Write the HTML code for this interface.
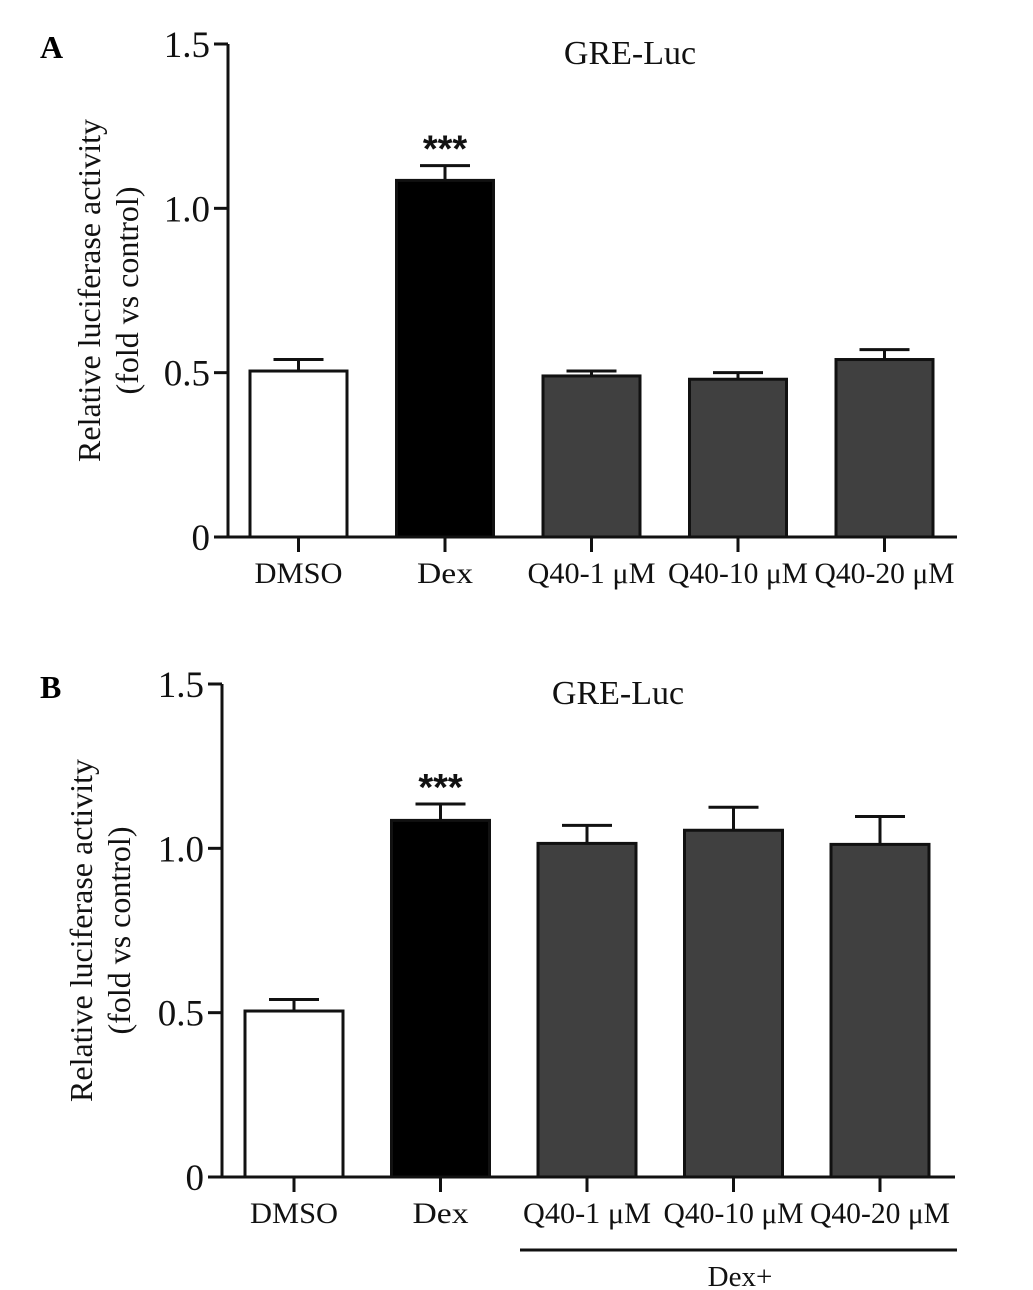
<!DOCTYPE html>
<html><head><meta charset="utf-8"><style>
html,body{margin:0;padding:0;background:#fff;}
svg{display:block;font-family:"Liberation Serif",serif;}
</style></head><body>
<svg id="chart" width="1033" height="1290" viewBox="0 0 1033 1290"></svg>
<script>
const categories = ["DMSO","Dex","Q40-1 μM","Q40-10 μM","Q40-20 μM"];
const valuesA = [0.505, 1.085, 0.49, 0.48, 0.54];
const errorsA = [0.035, 0.045, 0.015, 0.02, 0.03];
const valuesB = [0.505, 1.085, 1.015, 1.055, 1.012];
const errorsB = [0.035, 0.05, 0.055, 0.07, 0.085];
const yTicks = [0, 0.5, 1.0, 1.5];
const yTickLabels = ["0","0.5","1.0","1.5"];
const fills = ["#ffffff","#000000","#404040","#404040","#404040"];

const NS = "http://www.w3.org/2000/svg";
const svg = document.getElementById("chart");
function mk(tag, attrs, parent, text){
  const e = document.createElementNS(NS, tag);
  for (const k in attrs) e.setAttribute(k, attrs[k]);
  if (text !== undefined) e.textContent = text;
  (parent || svg).appendChild(e);
  return e;
}
function panel(cfg, values, errors){
  const g = mk("g", {});
  
  
  const y = v => cfg.y0 - v * (cfg.y0 - cfg.y15) / 1.5;
  const bx = i => cfg.firstBar + i * cfg.step;
  values.forEach((v, i) => {
    const x = bx(i);
    const cx = x + cfg.bw / 2;
    const eb = mk("line", {x1: cx, x2: cx, y1: y(v), y2: y(v + errors[i]), stroke: "#111", "stroke-width": 3}, g);
    
    
    const cap = mk("line", {x1: cx - 25, x2: cx + 25, y1: y(v + errors[i]), y2: y(v + errors[i]), stroke: "#111", "stroke-width": 3}, g);
    
    
    const r = mk("rect", {x: x, y: y(v), width: cfg.bw, height: cfg.y0 - y(v), fill: fills[i], stroke: "#111", "stroke-width": 3}, g);
    
    
    const t = mk("line", {x1: cx, x2: cx, y1: cfg.y0, y2: cfg.y0 + 15, stroke: "#111", "stroke-width": 3}, g);
    
    
    const l = mk("text", {x: cx, y: cfg.y0 + 46, "text-anchor": "middle", "font-size": 30, fill: "#111", textLength: cfg.lw[i], lengthAdjust: "spacingAndGlyphs"}, g, categories[i]);
    
    
  });
  const ya = mk("line", {x1: cfg.ax, x2: cfg.ax, y1: cfg.y15, y2: cfg.y0 + 1.5, stroke: "#111", "stroke-width": 3}, g);
  
  
  const xa = mk("line", {x1: cfg.ax - 1.5, x2: cfg.xend, y1: cfg.y0, y2: cfg.y0, stroke: "#111", "stroke-width": 3}, g);
  
  
  yTicks.forEach((v, i) => {
    const t = mk("line", {x1: cfg.ax - 14, x2: cfg.ax, y1: y(v), y2: y(v), stroke: "#111", "stroke-width": 3}, g);
    
    
    const l = mk("text", {x: cfg.ax - 18, y: y(v) + 13, "text-anchor": "end", "font-size": 37, fill: "#111"}, g, yTickLabels[i]);
    
    
  });
  const title = mk("text", {x: cfg.titleX, y: cfg.y15 + 20, "text-anchor": "middle", "font-size": 34, fill: "#111"}, g, "GRE-Luc");
  
  
  const my = (cfg.y0 + cfg.y15) / 2;
  const yt = mk("text", {transform: `translate(${cfg.ytx},${my}) rotate(-90)`, "text-anchor": "middle", "font-size": 32, fill: "#111"}, g);
  
  
  mk("tspan", {x: 0, dy: 0}, yt, "Relative luciferase activity");
  mk("tspan", {x: 0, dy: 38}, yt, "(fold vs control)");
  const s = mk("text", {x: bx(1) + cfg.bw / 2, y: y(values[1] + errors[1]) - 4, "text-anchor": "middle", "font-size": 38, "font-weight": "bold", "font-family": "Liberation Sans, sans-serif", fill: "#111"}, g, "***");
  
  
  const pl = mk("text", {x: cfg.labelX, y: cfg.y15 + 14, "font-size": 32, "font-weight": "bold", fill: "#000"}, g, cfg.label);
  
  
  return g;
}
const lw = [88, 56, 128, 140, 140];
panel({name: "panel-a", ax: 228, y0: 537, y15: 44, firstBar: 250, step: 146.5, bw: 97, xend: 957, titleX: 630, ytx: 100, labelX: 40, label: "A", lw: lw}, valuesA, errorsA);
const gB = panel({name: "panel-b", ax: 222, y0: 1177, y15: 684, firstBar: 245, step: 146.5, bw: 98, xend: 955, titleX: 618, ytx: 92, labelX: 40, label: "B", lw: lw}, valuesB, errorsB);
const dl = mk("line", {x1: 520, x2: 957, y1: 1250, y2: 1250, stroke: "#111", "stroke-width": 3}, gB);


const dt = mk("text", {x: 740, y: 1286, "text-anchor": "middle", "font-size": 29, fill: "#111"}, gB, "Dex+");


</script>
</body></html>
